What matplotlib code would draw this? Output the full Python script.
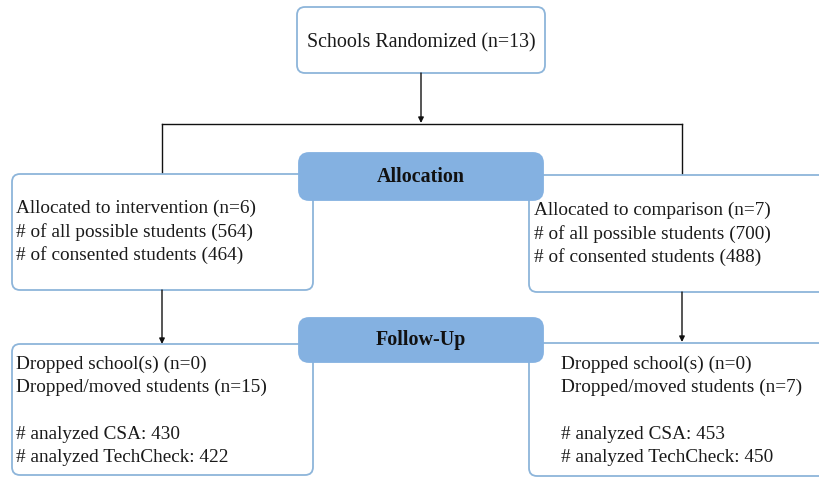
import matplotlib.pyplot as plt
from matplotlib.patches import FancyBboxPatch

# text content of the flowchart
top_label = "Schools Randomized (n=13)"
stage_labels = ["Allocation", "Follow-Up"]
alloc_left = ["Allocated to intervention (n=6)",
              "# of all possible students (564)",
              "# of consented students (464)"]
alloc_right = ["Allocated to comparison (n=7)",
               "# of all possible students (700)",
               "# of consented students (488)"]
follow_left = ["Dropped school(s) (n=0)",
               "Dropped/moved students (n=15)",
               "",
               "# analyzed CSA: 430",
               "# analyzed TechCheck: 422"]
follow_right = ["Dropped school(s) (n=0)",
                "Dropped/moved students (n=7)",
                "",
                "# analyzed CSA: 453",
                "# analyzed TechCheck: 450"]

edge_col = "#8db5da"
pill_col = "#84b1e1"
font = "Liberation Serif"
fs = 13.9

fig = plt.figure(figsize=(8.2, 4.79), dpi=100)
ax = fig.add_axes([0, 0, 1, 1])
ax.set_xlim(0, 820)
ax.set_ylim(479, 0)
ax.axis("off")


def box(x0, y0, x1, y1, fc="white", ec=edge_col, z=2, r=8):
    p = FancyBboxPatch((x0 + r, y0 + r), (x1 - x0) - 2 * r, (y1 - y0) - 2 * r,
                       boxstyle="round,pad=%d" % r, fc=fc, ec=ec, lw=1.3, zorder=z)
    ax.add_patch(p)


def lines_text(x, y, lines, step=23.5):
    for i, t in enumerate(lines):
        if t:
            ax.text(x, y + i * step, t, fontsize=fs, family=font, va="baseline",
                    ha="left", color="#1a1a1a", zorder=5)


# top box
box(297, 7, 545, 73)
ax.text(421, 47, top_label, fontsize=14.4, family=font, ha="center", va="baseline",
        color="#1a1a1a", zorder=5)

# connectors
arr = dict(arrowstyle="-|>", color="#111111", lw=1, mutation_scale=8,
           shrinkA=0, shrinkB=0)
ax.annotate("", xy=(421, 123), xytext=(421, 73), arrowprops=arr)
ax.plot([162, 682], [124, 124], color="#111111", lw=1, zorder=1)
ax.plot([162, 162], [124, 174], color="#111111", lw=1, zorder=1)
ax.plot([682, 682], [124, 175], color="#111111", lw=1, zorder=1)
ax.annotate("", xy=(162, 344), xytext=(162, 290), arrowprops=arr)
ax.annotate("", xy=(682, 342), xytext=(682, 292), arrowprops=arr)

# allocation boxes
box(12, 174, 313, 290)
box(529, 175, 830, 292)
lines_text(16, 213, alloc_left)
lines_text(534, 215, alloc_right)

# follow-up boxes
box(12, 344, 313, 475)
box(529, 343, 830, 476)
lines_text(16, 369, follow_left, step=23.3)
lines_text(561, 369, follow_right, step=23.3)

# stage pills
for (y0, y1), lab in zip([(153, 200), (318, 362)], stage_labels):
    box(299, y0, 543, y1, fc=pill_col, ec=pill_col, z=4, r=10)
    ax.text(421, (y0 + y1) / 2, lab, fontsize=14.4, family=font, weight="bold",
            ha="center", va="center", color="#111111", zorder=6)

fig.savefig("out.png", dpi=100)
